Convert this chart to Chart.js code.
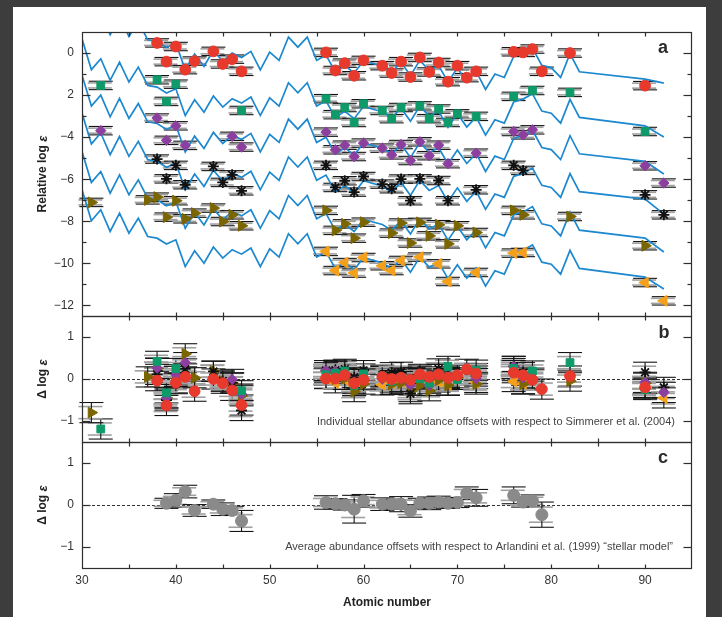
<!DOCTYPE html>
<html lang="en">
<head>
  <meta charset="UTF-8">
  <title>r-process abundance patterns</title>
  <script src="https://cdn.jsdelivr.net/npm/chart.js"></script>
  <style>
    html, body { margin: 0; padding: 0; background: #3d3d3d; }
    #wrap { position: relative; width: 722px; height: 617px; }
  </style>
</head>
<body>
<div id="wrap"><canvas id="chart" width="722" height="617"></canvas></div>
<script>
// ---- axis ticks ----
const xTicks = [30, 40, 50, 60, 70, 80, 90];
const xMinor = [35, 45, 55, 65, 75, 85];
const aTickValues = [0, -2, -4, -6, -8, -10, -12];
const aTickLabels = ['0', '2', '\u22124', '\u22126', '\u22128', '\u221210', '\u221212'];
const aMinor = [-1, -3, -5, -7, -9, -11];
const bcTickValues = [1, 0, -1];
const bcTickLabels = ['1', '0', '\u22121'];

// ---- scaled solar r-process model (lowest curve), other curves shifted up ----
const modelZ = [30, 31, 32, 33, 34, 35, 36, 37, 38, 39, 40, 41, 42, 43, 44, 45, 46, 47, 48, 49, 50,
  51, 52, 53, 54, 55, 56, 57, 58, 59, 60, 61, 62, 63, 64, 65, 66, 67, 68, 69, 70,
  71, 72, 73, 74, 75, 76, 77, 78, 79, 80, 81, 82, 83];
const modelBase = [-6.50, -7.97, -7.45, -8.48, -7.61, -8.56, -7.85, -8.72, -8.80, -9.08, -8.88,
  -10.15, -9.40, -9.99, -9.22, -9.75, -9.35, -9.56, -9.27, -10.15, -9.31,
  -9.70, -8.59, -9.07, -8.59, -9.70, -9.45, -10.25, -9.95, -10.30, -9.72,
  -9.85, -9.97, -10.25, -9.80, -10.42, -9.70, -10.18, -9.95, -10.72, -10.06,
  -10.70, -10.22, -11.08, -10.35, -10.51, -9.51, -9.37, -9.12, -9.94, -10.04,
  -10.51, -9.38, -10.24];
const modelShift = [9.35, 7.18, 5.45, 3.65, 1.82, 0];
const modelTh = [-1.24, -3.46, -5.15, -6.94, -8.80, -10.65];   // Z = 90
const modelU = [-1.43, -3.99, -5.75, -7.66, -9.46, -11.22];    // Z = 92

// ---- stars: atomic numbers, relative log eps (panel a), offsets (panel b) ----
const zRed = [38, 39, 40, 41, 42, 44, 45, 46, 47, 56, 57, 58, 59, 60, 62, 63, 64, 65, 66, 67, 68, 69, 70, 71, 72, 76, 77, 78, 79, 82, 90];
const aRed = [0.48, -0.41, 0.31, -0.79, -0.38, 0.08, -0.52, -0.29, -0.87, 0.03, -0.83, -0.48, -1.08, -0.35, -0.60, -0.95, -0.41, -1.14, -0.21, -0.90, -0.45, -1.36, -0.60, -1.17, -0.87, 0.06, 0.03, 0.19, -0.87, 0.00, -1.55];
const bRed = [-0.04, -0.63, -0.09, 0.05, -0.29, 0.00, -0.10, -0.27, -0.62, 0.01, 0.01, 0.09, -0.10, -0.02, 0.05, 0.00, 0.03, -0.02, 0.11, 0.05, 0.11, 0.03, 0.09, 0.23, 0.13, 0.15, 0.09, -0.02, -0.24, 0.07, -0.20];

const zGreen = [32, 38, 39, 40, 47, 56, 57, 58, 59, 60, 62, 63, 64, 66, 67, 68, 69, 70, 72, 76, 78, 82, 90];
const aGreen = [-1.54, -1.27, -2.30, -1.48, -2.73, -2.17, -2.93, -2.59, -3.30, -2.41, -2.73, -3.12, -2.59, -2.51, -3.12, -2.66, -3.30, -2.89, -3.01, -2.06, -1.78, -1.87, -3.73];
const bGreen = [-1.19, 0.42, -0.33, 0.25, -0.28, 0.10, 0.14, 0.19, -0.15, 0.12, 0.06, -0.05, 0.03, 0.01, -0.10, 0.11, 0.30, -0.01, 0.21, 0.25, 0.19, 0.39, -0.25];

const zPurple = [32, 38, 39, 40, 41, 46, 47, 56, 57, 58, 59, 60, 62, 63, 64, 65, 66, 67, 68, 69, 72, 76, 77, 78, 90, 92];
const aPurple = [-3.69, -3.09, -4.15, -3.46, -4.39, -3.96, -4.47, -3.76, -4.60, -4.38, -4.92, -4.28, -4.52, -4.84, -4.35, -5.11, -4.22, -4.88, -4.38, -5.26, -4.76, -3.73, -3.89, -3.65, -5.36, -6.18];
const bPurple = [null, 0.26, -0.45, 0.10, 0.39, -0.01, -0.36, 0.20, 0.18, 0.12, -0.07, -0.01, 0.00, -0.04, 0.00, -0.14, 0.03, -0.15, 0.12, 0.01, 0.01, 0.30, 0.03, 0.02, -0.08, -0.32];

const zBlack = [38, 39, 40, 41, 44, 45, 46, 47, 56, 57, 58, 59, 60, 62, 63, 64, 65, 66, 68, 69, 72, 76, 77, 90, 92];
const aBlack = [-5.04, -5.98, -5.34, -6.26, -5.39, -6.15, -5.79, -6.55, -5.34, -6.39, -6.07, -6.61, -5.87, -6.23, -6.45, -5.99, -7.02, -5.98, -6.06, -7.02, -6.50, -5.34, -5.58, -6.74, -7.69];
const bBlack = [0.11, -0.50, -0.11, 0.24, 0.18, -0.05, -0.09, -0.75, 0.20, 0.21, 0.23, 0.04, 0.20, 0.09, 0.15, 0.16, -0.35, 0.07, 0.24, 0.05, 0.07, 0.30, 0.15, 0.16, -0.20];

const zOlive = [31, 37, 38, 39, 40, 41, 42, 44, 45, 46, 47, 56, 57, 58, 59, 60, 63, 64, 65, 66, 67, 68, 69, 70, 72, 76, 77, 82, 90];
const aOlive = [-7.10, -6.98, -6.85, -7.80, -7.02, -7.88, -7.61, -7.37, -8.01, -7.69, -8.21, -7.48, -8.43, -8.12, -8.80, -8.04, -8.56, -8.08, -9.03, -8.05, -8.69, -8.16, -9.07, -8.21, -8.53, -7.48, -7.69, -7.77, -9.16];
const bOlive = [-0.80, 0.05, 0.25, -0.45, 0.06, 0.60, 0.03, 0.19, -0.05, -0.10, -0.40, 0.15, 0.00, 0.01, -0.30, -0.12, -0.13, -0.10, -0.30, -0.15, -0.28, -0.03, -0.15, 0.03, -0.12, 0.20, -0.12, -0.05, -0.10];

const zOrange = [56, 57, 58, 59, 60, 62, 63, 64, 66, 68, 69, 72, 76, 77, 90, 92];
const aOrange = [-9.43, -10.34, -9.96, -10.46, -9.72, -10.11, -10.34, -9.86, -9.70, -10.02, -10.86, -10.43, -9.51, -9.48, -10.91, -11.78];
const bOrange = [0.02, -0.09, -0.01, -0.16, 0.00, -0.14, -0.09, -0.06, 0.00, -0.07, -0.14, -0.08, -0.06, -0.11, -0.22, -0.45];

// ---- panel c: average offsets ----
const zAvg = [39, 40, 41, 42, 44, 45, 46, 47, 56, 57, 58, 59, 60, 62, 63, 64, 65, 66, 67, 68, 69, 70, 71, 72, 76, 77, 78, 79];
const cAvg = [0.04, 0.11, 0.32, -0.13, 0.02, -0.10, -0.13, -0.38, 0.06, 0.03, 0.00, -0.10, 0.10, 0.02, 0.02, 0.02, -0.14, 0.04, 0.04, 0.07, 0.04, 0.06, 0.28, 0.17, 0.23, 0.07, 0.10, -0.23];
const cErr = [0.12, 0.16, 0.15, 0.14, 0.10, 0.15, 0.10, 0.25, 0.16, 0.12, 0.12, 0.33, 0.15, 0.15, 0.12, 0.18, 0.15, 0.12, 0.15, 0.14, 0.12, 0.12, 0.15, 0.20, 0.20, 0.12, 0.14, 0.30];

const FONT = "'Liberation Sans', Arial, Helvetica, sans-serif";
Chart.defaults.font.family = FONT;
Chart.defaults.font.size = 12;
Chart.defaults.color = '#333';

function pts(z, v) {
  return z.map((x, i) => ({ x: x, y: v[i] }));
}

const starStyles = [
  { z: zRed, a: aRed, b: bRed, style: { pointStyle: 'circle', pointRadius: 5.4, backgroundColor: '#e8392d', borderColor: '#e8392d', borderWidth: 1 } },
  { z: zGreen, a: aGreen, b: bGreen, style: { pointStyle: 'rect', pointRadius: 5.5, backgroundColor: '#0f9a69', borderColor: '#0f9a69', borderWidth: 1 } },
  { z: zPurple, a: aPurple, b: bPurple, style: { pointStyle: 'rectRot', pointRadius: 5.2, backgroundColor: '#8d3f9f', borderColor: '#8d3f9f', borderWidth: 1 } },
  { z: zBlack, a: aBlack, b: bBlack, style: { pointStyle: 'star', pointRadius: 5.5, backgroundColor: '#111', borderColor: '#111', borderWidth: 1.8 } },
  { z: zOlive, a: aOlive, b: bOlive, style: { pointStyle: 'triangle', rotation: 90, pointRadius: 6.3, backgroundColor: '#7b6500', borderColor: '#7b6500', borderWidth: 1 } },
  { z: zOrange, a: aOrange, b: bOrange, style: { pointStyle: 'triangle', rotation: -90, pointRadius: 6.3, backgroundColor: '#f5a01a', borderColor: '#f5a01a', borderWidth: 1 } }
];

const datasets = [];
starStyles.forEach(s => {
  datasets.push(Object.assign({ data: pts(s.z, s.a), yAxisID: 'yA', err: 0.2, order: 0 }, s.style));
});
starStyles.forEach(s => {
  datasets.push(Object.assign({ data: pts(s.z, s.b), yAxisID: 'yB', err: 0.24, order: 0 }, s.style));
});
datasets.push({
  data: pts(zAvg, cAvg), yAxisID: 'yC', err: cErr, order: 0,
  pointStyle: 'circle', pointRadius: 6, backgroundColor: '#8a8a8a', borderColor: '#8a8a8a', borderWidth: 1
});
modelShift.forEach((sh, k) => {
  const d = modelZ.map((z, i) => ({ x: z, y: modelBase[i] + sh }));
  d.push({ x: 90, y: modelTh[k] }, { x: 92, y: modelU[k] });
  datasets.push({
    data: d, yAxisID: 'yA', showLine: true, pointRadius: 0, borderColor: '#1c88cf',
    borderWidth: 1.7, tension: 0, order: 1
  });
});

function seg(ctx, x1, y1, x2, y2) {
  ctx.beginPath();
  ctx.moveTo(x1, y1);
  ctx.lineTo(x2, y2);
  ctx.stroke();
}

function rotTitle(ctx, parts, cx, cy) {
  ctx.save();
  ctx.translate(cx, cy);
  ctx.rotate(-Math.PI / 2);
  ctx.textBaseline = 'middle';
  ctx.textAlign = 'left';
  let total = 0;
  parts.forEach(p => { ctx.font = p[1]; total += ctx.measureText(p[0]).width; });
  let x = -total / 2;
  parts.forEach(p => { ctx.font = p[1]; ctx.fillText(p[0], x, 0); x += ctx.measureText(p[0]).width; });
  ctx.restore();
}

const decor = {
  id: 'decor',
  beforeDraw(chart) {
    const ctx = chart.ctx;
    ctx.save();
    ctx.fillStyle = '#3d3d3d';
    ctx.fillRect(0, 0, chart.width, chart.height);
    ctx.fillStyle = '#ffffff';
    ctx.fillRect(13, 7, 693, 610);
    ctx.restore();
  },
  beforeDatasetsDraw(chart) {
    const { ctx, chartArea: ca, scales } = chart;
    ctx.save();
    ctx.strokeStyle = '#333';
    ctx.lineWidth = 1;
    ctx.setLineDash([3, 2]);
    ['yB', 'yC'].forEach(id => {
      const y = Math.round(scales[id].getPixelForValue(0)) + 0.5;
      seg(ctx, ca.left, y, ca.right, y);
    });
    ctx.setLineDash([]);
    chart.data.datasets.forEach((ds, i) => {
      if (ds.err === undefined) return;
      const meta = chart.getDatasetMeta(i);
      const ys = scales[ds.yAxisID];
      ds.data.forEach((d, j) => {
        if (d.y === null) return;
        const x = meta.data[j].x;
        const e = Array.isArray(ds.err) ? ds.err[j] : ds.err;
        const t = ys.getPixelForValue(d.y + e), b = ys.getPixelForValue(d.y - e);
        const gt = ys.getPixelForValue(d.y + e * 0.6), gb = ys.getPixelForValue(d.y - e * 0.6);
        ctx.strokeStyle = '#a0a0a0';
        ctx.lineWidth = 1.6;
        seg(ctx, x - 13, gt, x + 11, gt);
        seg(ctx, x - 13, gb, x + 11, gb);
        ctx.strokeStyle = '#151515';
        ctx.lineWidth = 1.1;
        seg(ctx, x, t, x, b);
        seg(ctx, x - 12, t, x + 12, t);
        seg(ctx, x - 12, b, x + 12, b);
      });
    });
    ctx.restore();
  },
  afterDatasetsDraw(chart) {
    const { ctx, chartArea: ca, scales } = chart;
    const xs = scales.x;
    ctx.save();
    ctx.strokeStyle = '#2e2e2e';
    ctx.lineWidth = 1.2;
    const L = ca.left + 0.5, R = ca.right - 0.5;
    const panels = [[scales.yA, aTickValues, aMinor], [scales.yB, bcTickValues, []], [scales.yC, bcTickValues, []]];
    panels.forEach(([s, major, minor]) => {
      const top = Math.round(s.top) + 0.5, bot = Math.round(s.bottom) + 0.5;
      ctx.strokeRect(L, top, R - L, bot - top);
      major.forEach(v => {
        const y = Math.round(s.getPixelForValue(v)) + 0.5;
        seg(ctx, L, y, L + 8, y);
        seg(ctx, R, y, R - 8, y);
      });
      minor.forEach(v => {
        const y = Math.round(s.getPixelForValue(v)) + 0.5;
        seg(ctx, L, y, L + 4, y);
        seg(ctx, R, y, R - 4, y);
      });
      xTicks.concat(xMinor).forEach(v => {
        const x = Math.round(xs.getPixelForValue(v)) + 0.5;
        if (x <= L + 1 || x >= R - 1) return;
        seg(ctx, x, top, x, top + 4);
        seg(ctx, x, bot, x, bot - 4);
      });
    });
    ctx.restore();
  },
  afterDraw(chart) {
    const { ctx, chartArea: ca, scales } = chart;
    ctx.save();
    ctx.fillStyle = '#2a2a2a';
    ctx.textAlign = 'center';
    ctx.textBaseline = 'middle';
    ctx.font = 'bold 18px ' + FONT;
    ctx.fillText('a', ca.right - 29, scales.yA.top + 16);
    ctx.fillText('b', ca.right - 28, scales.yB.top + 17);
    ctx.fillText('c', ca.right - 29, scales.yC.top + 16);

    ctx.fillStyle = '#444';
    ctx.font = '11px ' + FONT;
    ctx.textAlign = 'right';
    ctx.fillText('Individual stellar abundance offsets with respect to Simmerer et al. (2004)', ca.right - 17, scales.yB.bottom - 20);
    ctx.fillText('Average abundance offsets with respect to Arlandini et al. (1999) \u201cstellar model\u201d', ca.right - 19, scales.yC.bottom - 21);

    ctx.fillStyle = '#222';
    ctx.textAlign = 'center';
    ctx.font = 'bold 12px ' + FONT;
    ctx.fillText('Atomic number', (ca.left + ca.right) / 2, 603);

    const bold = 'bold 12px ' + FONT, ital = 'italic bold 13px ' + FONT;
    rotTitle(ctx, [['Relative log ', bold], ['\u03b5', ital]], 43, (scales.yA.top + scales.yA.bottom) / 2);
    rotTitle(ctx, [['\u0394 log ', bold], ['\u03b5', ital]], 43, (scales.yB.top + scales.yB.bottom) / 2);
    rotTitle(ctx, [['\u0394 log ', bold], ['\u03b5', ital]], 43, (scales.yC.top + scales.yC.bottom) / 2);
    ctx.restore();
  }
};

function yAxis(weight, min, max, values, labels) {
  return {
    type: 'linear', position: 'left', stack: 'panels', stackWeight: weight,
    min: min, max: max,
    grid: { display: false, drawTicks: false },
    border: { display: false },
    afterBuildTicks: s => { s.ticks = values.map(v => ({ value: v })); },
    afterFit: s => { s.width = 82; },
    ticks: { padding: 8, autoSkip: false, color: '#333', font: { size: 12 }, callback: (v, i) => labels[i] }
  };
}

new Chart(document.getElementById('chart'), {
  type: 'scatter',
  data: { datasets: datasets },
  options: {
    responsive: false,
    animation: false,
    devicePixelRatio: 1,
    layout: { padding: { left: 0, right: 30, top: 32, bottom: 0 } },
    plugins: { legend: { display: false }, tooltip: { enabled: false } },
    scales: {
      x: {
        type: 'linear', position: 'bottom', min: 30, max: 95,
        grid: { display: false, drawTicks: false },
        border: { display: false },
        afterBuildTicks: s => { s.ticks = xTicks.map(v => ({ value: v })); },
        afterFit: s => { s.height = 49; },
        ticks: { padding: 5, autoSkip: false, maxRotation: 0, color: '#333', callback: v => String(v) }
      },
      yC: yAxis(126, -1.5, 1.5, bcTickValues, bcTickLabels),
      yB: yAxis(126, -1.5, 1.5, bcTickValues, bcTickLabels),
      yA: yAxis(284, -12.5, 1, aTickValues, aTickLabels)
    }
  },
  plugins: [decor]
});
</script>
</body>
</html>
